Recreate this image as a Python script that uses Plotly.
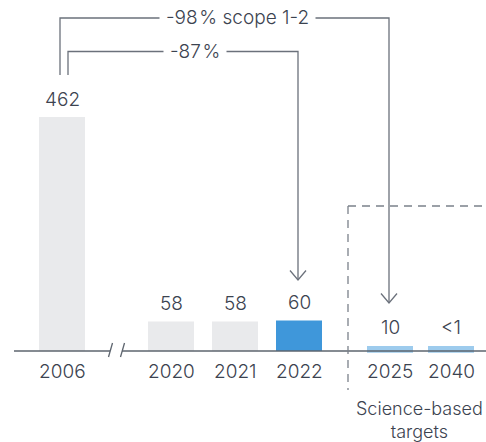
import plotly.graph_objects as go

# ---- data ----
years = ["2006", "2020", "2021", "2022", "2025", "2040"]
values = [462, 58, 58, 60, 10, 1]
value_labels = ["462", "58", "58", "60", "10", "<1"]
kinds = ["hist", "hist", "hist", "current", "target", "target"]
bracket_labels = ["-98\u200a% scope 1-2", "-87\u200a%"]
group_label = "Science-based<br>targets"

# ---- layout constants ----
W, H = 486, 442
X_POS = [62, 171, 235, 299, 390, 451]
BAR_W = 46
BASE_PX = 351            # pixel row of the baseline
PX_PER_UNIT = 234 / 462  # vertical scale
TARGET_MIN = 10          # minimum visible height of target bars
TARGET_BASE = -3.4

COL = {"hist": "#e9eaec", "current": "#3f97da", "target": "#9dcbed"}
TEXT = "#3c4350"
LINE = "#5d646e"
FONT = "Inter"
FS = 19
FW = 350

y_top = BASE_PX / PX_PER_UNIT
y_bot = -(H - BASE_PX) / PX_PER_UNIT


def py(p):
    """pixel row -> paper y"""
    return 1 - p / H


def font(size=FS):
    return dict(family=FONT, size=size, color=TEXT, weight=FW)


fig = go.Figure()

disp_tops = []
for x, v, k in zip(X_POS, values, kinds):
    if k == "target":
        top = max(v, TARGET_MIN)
        fig.add_bar(x=[x], y=[top - TARGET_BASE], base=[TARGET_BASE], width=BAR_W,
                    marker=dict(color=COL[k], line=dict(width=0)), hoverinfo="skip")
    else:
        top = v
        fig.add_bar(x=[x], y=[v], width=BAR_W,
                    marker=dict(color=COL[k], line=dict(width=0)), hoverinfo="skip")
    disp_tops.append(top)

shapes = []
# baseline with break
shapes.append(dict(type="line", xref="x", yref="y", x0=14, x1=110, y0=0, y1=0,
                   line=dict(color=LINE, width=1.5)))
shapes.append(dict(type="line", xref="x", yref="y", x0=122, x1=W, y0=0, y1=0,
                   line=dict(color=LINE, width=1.5)))
for sx in (108.5, 120.5):
    shapes.append(dict(type="line", xref="x", yref="paper", x0=sx, x1=sx + 4,
                       y0=py(357), y1=py(343), line=dict(color=LINE, width=1.3)))

# dashed target box
shapes.append(dict(type="line", xref="x", yref="paper", x0=348, x1=348,
                   y0=py(206), y1=py(390), line=dict(color="#7b818a", width=1.3, dash="8px,6px")))
shapes.append(dict(type="line", xref="x", yref="paper", x0=348, x1=W,
                   y0=py(206), y1=py(206), line=dict(color="#7b818a", width=1.3, dash="8px,6px")))

# brackets: (left x, top y, right x, arrow tip y)
brackets = [(60, 18, X_POS[4] - 1, 303), (68, 51.5, X_POS[3] - 1, 280)]
BR_COL = "#6b717b"
for (lx, ty, rx, tip) in brackets:
    path = f"M {lx},{py(75)} L {lx},{py(ty)} L {rx},{py(ty)} L {rx},{py(tip)}"
    shapes.append(dict(type="path", xref="x", yref="paper", path=path,
                       line=dict(color=BR_COL, width=1.3)))
    chev = f"M {rx-8},{py(tip-9.5)} L {rx},{py(tip)} L {rx+8},{py(tip-9.5)}"
    shapes.append(dict(type="path", xref="x", yref="paper", path=chev,
                       line=dict(color=BR_COL, width=1.3)))

annotations = []
# bracket labels with white background to cut the lines
for (lx, ty, rx, tip), lab, cx in zip(brackets, bracket_labels, [237, 195]):
    annotations.append(dict(x=cx, y=py(ty), xref="x", yref="paper", text=lab,
                            showarrow=False, bgcolor="white", borderpad=6,
                            font=font(), xanchor="center", yanchor="middle"))

# value labels
for x, top, lab in zip(X_POS, disp_tops, value_labels):
    annotations.append(dict(x=x, y=top, xref="x", yref="y", text=lab, showarrow=False,
                            font=font(), xanchor="center", yanchor="middle", yshift=18))
# year labels
for x, yr in zip(X_POS, years):
    annotations.append(dict(x=x, y=0, xref="x", yref="y", text=yr, showarrow=False,
                            font=font(), xanchor="center", yanchor="middle", yshift=-20))
# group label
annotations.append(dict(x=419, y=py(420), xref="x", yref="paper", text=group_label,
                        showarrow=False, font=font(18),
                        xanchor="center", yanchor="middle"))

fig.update_layout(
    width=W, height=H, margin=dict(l=0, r=0, t=0, b=0),
    paper_bgcolor="white", plot_bgcolor="white", showlegend=False,
    barmode="overlay",
    xaxis=dict(range=[0, W], visible=False, fixedrange=True),
    yaxis=dict(range=[y_bot, y_top], visible=False, fixedrange=True),
    shapes=shapes, annotations=annotations,
)

fig.write_html("out.html", config={"displayModeBar": False})
